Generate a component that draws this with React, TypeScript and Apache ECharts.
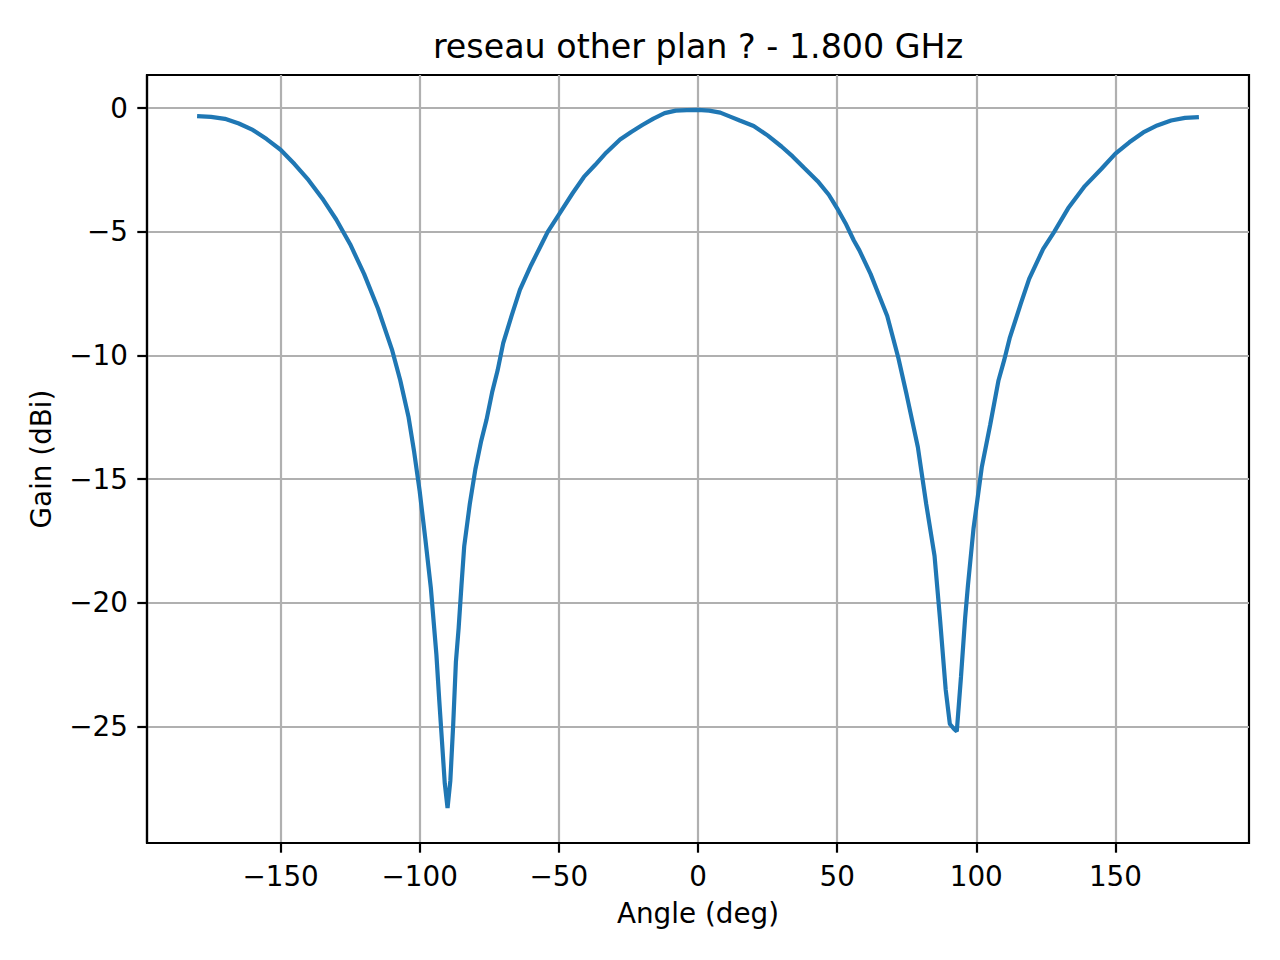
import React, { useEffect, useRef } from "react";
import * as echarts from "echarts";

const angles = [
  -180, -175, -170, -165, -160, -155, -150, -145, -140, -135, -130, -125, -120, -115, -110,
  -107, -104, -102, -100, -98, -96, -94, -93, -92, -91, -90, -89, -88, -87, -86, -85, -84,
  -82, -80, -78, -76, -74, -72, -70, -67, -64, -60, -56, -54, -50, -45, -41, -37, -33, -28,
  -24, -20, -16, -12, -8, -4, 0, 4, 8, 12, 15, 20, 25, 30, 34, 38, 43, 47, 50, 53, 56, 58,
  62, 65, 68, 72, 75, 79, 82, 85, 87, 89, 90.5, 92, 93, 94.5, 96, 97, 99, 102, 105, 108,
  110, 112, 116, 119, 124, 128, 133, 139, 145, 150, 155, 160, 165, 170, 175, 180,
];

const gains = [
  -0.32, -0.35, -0.43, -0.62, -0.88, -1.25, -1.68, -2.26, -2.9, -3.65, -4.5, -5.5, -6.7, -8.1, -9.75,
  -11.0, -12.5, -13.9, -15.5, -17.4, -19.4, -22.1, -23.9, -25.6, -27.3, -28.3, -27.2, -25.0, -22.4, -21.0, -19.3, -17.7,
  -16.0, -14.6, -13.5, -12.6, -11.5, -10.6, -9.5, -8.4, -7.35, -6.35, -5.45, -5.0, -4.3, -3.43, -2.78, -2.3, -1.8, -1.27,
  -0.96, -0.68, -0.42, -0.2, -0.1, -0.08, -0.07, -0.1, -0.18, -0.36, -0.5, -0.72, -1.1, -1.55, -1.95, -2.4, -2.95, -3.5, -4.05, -4.65, -5.35, -5.75,
  -6.7, -7.55, -8.4, -10.1, -11.6, -13.7, -16.0, -18.1, -20.7, -23.5, -24.9, -25.1, -25.2, -23.0, -20.6, -19.3, -17.0, -14.5, -12.8, -11.0,
  -10.2, -9.3, -7.9, -6.9, -5.7, -5.0, -4.05, -3.15, -2.45, -1.84, -1.38, -0.98, -0.7, -0.5, -0.39, -0.36,
];

const xTicks = [-150, -100, -50, 0, 50, 100, 150];
const yTicks = [-25, -20, -15, -10, -5, 0];

const titleText = "reseau other plan ? - 1.800 GHz";
const xName = "Angle (deg)";
const yName = "Gain (dBi)";

const FONT = "DejaVu Sans";

export default function App() {
  const ref = useRef<HTMLDivElement>(null);

  useEffect(() => {
    if (!ref.current) return;
    const chart = echarts.init(ref.current, null, { renderer: "svg" });

    const xMinD = Math.min(...angles);
    const xMaxD = Math.max(...angles);
    const xPad = (xMaxD - xMinD) * 0.05;
    const yMinD = Math.min(...gains);
    const yMaxD = Math.max(...gains);
    const yPad = (yMaxD - yMinD) * 0.05;

    const fmt = (v: number) => String(v).replace("-", "\u2212");

    const axisCommon = {
      type: "value" as const,
      axisLine: { show: true, onZero: false, lineStyle: { color: "#000", width: 2.2 } },
      axisTick: {
        show: true,
        inside: false,
        length: 9.7,
        lineStyle: { color: "#000", width: 2.2 },
      },
      splitLine: { show: true, lineStyle: { color: "#b0b0b0", width: 2.2 } },
      nameLocation: "middle" as const,
      nameTextStyle: { fontFamily: FONT, fontSize: 27.8, color: "#000" },
    };

    chart.setOption({
      animation: false,
      backgroundColor: "#ffffff",
      title: {
        text: titleText,
        left: 693,
        top: 25,
        textAlign: "center",
        textStyle: { fontFamily: FONT, fontSize: 33.3, fontWeight: "normal", color: "#000" },
      },
      grid: {
        left: 147,
        right: 31,
        top: 75,
        bottom: 117,
        show: true,
        borderColor: "#000",
        borderWidth: 2.2,
        backgroundColor: "transparent",
      },
      xAxis: {
        ...axisCommon,
        min: xMinD - xPad,
        max: xMaxD + xPad,
        name: xName,
        nameGap: 56,
        axisTick: { ...axisCommon.axisTick, customValues: xTicks },
        axisLabel: {
          customValues: xTicks,
          formatter: fmt,
          margin: 19,
          fontFamily: FONT,
          fontSize: 27.8,
          color: "#000",
        },
      },
      yAxis: {
        ...axisCommon,
        min: yMinD - yPad,
        max: yMaxD + yPad,
        name: yName,
        nameGap: 92,
        axisTick: { ...axisCommon.axisTick, customValues: yTicks },
        axisLabel: {
          customValues: yTicks,
          formatter: fmt,
          margin: 19,
          fontFamily: FONT,
          fontSize: 27.8,
          color: "#000",
        },
      },
      series: [
        {
          type: "line",
          data: angles.map((a, i) => [a, gains[i]]),
          showSymbol: false,
          symbol: "none",
          smooth: false,
          lineStyle: { color: "#1f77b4", width: 4.2 },
          itemStyle: { color: "#1f77b4" },
          z: 3,
        },
      ],
    });

    return () => chart.dispose();
  }, []);

  return (
    <div
      ref={ref}
      style={{ position: "fixed", left: 0, top: 0, width: 1280, height: 960, background: "#fff" }}
    />
  );
}
